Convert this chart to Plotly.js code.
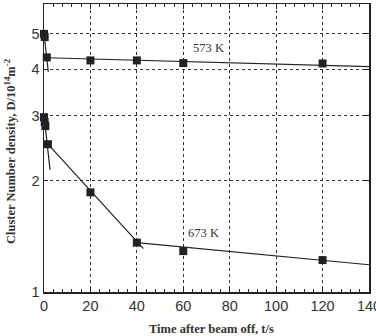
<!DOCTYPE html>
<html>
<head>
<meta charset="utf-8">
<script src="https://cdn.plot.ly/plotly-3.0.1.min.js"></script>
<style>html,body{margin:0;padding:0;background:#fff}#chart{width:376px;height:336px}</style>
</head>
<body>
<div id="chart"></div>
<script>
// Measured points
const t573 = [0, 0.3, 1.2, 20, 40, 60, 120];
const d573 = [4.99, 4.89, 4.31, 4.23, 4.23, 4.16, 4.15];
const t673 = [0, 0.3, 0.6, 1.7, 20, 40, 60, 120];
const d673 = [2.97, 2.88, 2.81, 2.51, 1.86, 1.36, 1.29, 1.22];
// Fitted lines (end points)
const fit573FastT = [0, 1.85],  fit573FastD = [5.01, 3.94];
const fit573SlowT = [1.2, 140], fit573SlowD = [4.30, 4.07];
const fit673FastT = [0, 2.6],   fit673FastD = [3.01, 2.14];
const fit673MidT  = [1.7, 42.8], fit673MidD = [2.51, 1.31];
const fit673SlowT = [40, 140],  fit673SlowD = [1.36, 1.185];
const xTicks = [0, 20, 40, 60, 80, 100, 120, 140];
const yTicks = [1, 2, 3, 4, 5];
const labels = ['573 K', '673 K'];
const xTitle = 'Time after beam off, t/s';
const yTitle = 'Cluster Number density, D/10<sup>14</sup>m<sup>-2</sup>';

const lineStyle = {color: '#222', width: 1.2};
function fit(x, y) {
  return {x: x, y: y, type: 'scatter', mode: 'lines', line: lineStyle, hoverinfo: 'skip', showlegend: false};
}
const mk = {symbol: 'square', size: 8, color: '#222'};
const data = [
  fit(fit573FastT, fit573FastD),
  fit(fit573SlowT, fit573SlowD),
  fit(fit673FastT, fit673FastD),
  fit(fit673MidT, fit673MidD),
  fit(fit673SlowT, fit673SlowD),
  {x: t573, y: d573, type: 'scatter', mode: 'markers', marker: mk, name: labels[0], showlegend: false, cliponaxis: false},
  {x: t673, y: d673, type: 'scatter', mode: 'markers', marker: mk, name: labels[1], showlegend: false, cliponaxis: false}
];

const tickFont = {family: 'Liberation Sans, Arial, sans-serif', size: 14.5, color: '#333'};
const titleFont = {family: 'Liberation Serif, Times New Roman, serif', size: 12.5, color: '#333', weight: 'bold'};
const annFont = {family: 'Liberation Serif, Times New Roman, serif', size: 12.5, color: '#333'};

const layout = {
  width: 376, height: 336,
  margin: {l: 44, r: 7, t: 4, b: 44},
  paper_bgcolor: '#fff', plot_bgcolor: '#fff',
  showlegend: false,
  xaxis: {
    range: [0, 140], tickvals: xTicks, ticktext: xTicks.map(String),
    ticks: 'inside', ticklen: 5, tickcolor: '#222', tickwidth: 1,
    mirror: 'allticks', showline: true, linecolor: '#222', linewidth: 1.5,
    showgrid: true, gridcolor: '#333', griddash: 'dot', gridwidth: 1,
    zeroline: false, tickfont: tickFont, ticklabeloverflow: 'allow',
    automargin: false,
    minor: {dtick: 4, tick0: 0, ticks: 'inside', ticklen: 3, tickcolor: '#222', showgrid: false}
  },
  yaxis: {
    type: 'log', range: [0, Math.log10(6.01)],
    tickvals: yTicks, ticktext: yTicks.map(String),
    ticks: 'inside', ticklen: 4, tickcolor: '#222',
    mirror: 'allticks', showline: true, linecolor: '#222', linewidth: 1.5,
    showgrid: true, gridcolor: '#333', griddash: 'dot', gridwidth: 1,
    zeroline: false, tickfont: tickFont, automargin: false
  },
  annotations: [
    {text: labels[0], xref: 'paper', yref: 'paper', x: 0.505, y: 0.847, xanchor: 'center', yanchor: 'middle', showarrow: false, font: annFont},
    {text: labels[1], xref: 'paper', yref: 'paper', x: 0.491, y: 0.205, xanchor: 'center', yanchor: 'middle', showarrow: false, font: annFont},
    {text: xTitle, xref: 'paper', yref: 'paper', x: 0.514, y: -0.127, xanchor: 'center', yanchor: 'middle', showarrow: false, font: titleFont, borderpad: 0},
    {text: yTitle, xref: 'paper', yref: 'paper', x: -0.1046, y: 0.486, xanchor: 'center', yanchor: 'middle', textangle: -90, showarrow: false, font: titleFont}
  ]
};
Plotly.newPlot('chart', data, layout, {displayModeBar: false, staticPlot: true});
</script>
</body>
</html>
